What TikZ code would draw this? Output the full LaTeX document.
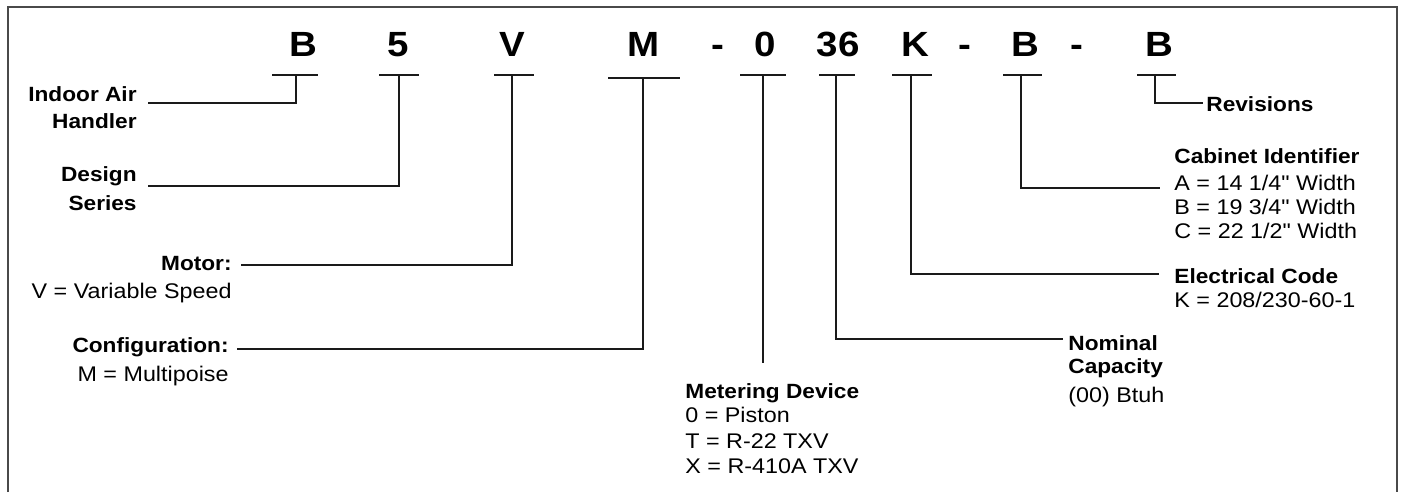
\documentclass[tikz,border=0pt]{standalone}
\usepackage{fontspec}
\setmainfont{Liberation Sans}[FakeStretch=1.1, Ligatures=TeXOff]
\usetikzlibrary{calc}
\definecolor{framecol}{HTML}{4A4A4A}
\definecolor{linecol}{HTML}{1A1A1A}
\begin{document}
\begin{tikzpicture}[x=0.5pt,y=-0.5pt,
  code/.style={font=\fontsize{17.5}{20}\selectfont\bfseries, anchor=base, inner sep=0pt},
  lb/.style={font=\fontsize{10.3}{12}\selectfont\bfseries, inner sep=0pt},
  lt/.style={font=\fontsize{10.6}{12}\selectfont, inner sep=0pt},
  conn/.style={line width=0.6pt, draw=linecol},
  tickline/.style={line width=0.75pt, draw=linecol}]
\useasboundingbox (0,0) rectangle (1401,492);
% frame (open at the bottom)
\draw[line width=1pt, draw=framecol] (8,492) -- (8,7.5) -- (1397,7.5) -- (1397,492);

% code letters
\node[code] (cB1) at (303,57) {B};
\node[code] (c5)  at (398,57) {5};
\node[code] (cV)  at (512,57) {V};
\node[code] (cM)  at (643.5,57) {M};
\node[code] (cd1) at (718,57) {-};
\node[code] (c0)  at (765,57) {0};
\node[code] (c36) at (838,57) {36};
\node[code] (cK)  at (915,57) {K};
\node[code] (cd2) at (965,57) {-};
\node[code] (cB2) at (1025,57) {B};
\node[code] (cd3) at (1077,57) {-};
\node[code] (cB3) at (1159,57) {B};

% tick points
\coordinate (tB1) at (296,75);
\coordinate (t5)  at (399,75);
\coordinate (tV)  at (512,75);
\coordinate (tM)  at (643,78);
\coordinate (t0)  at (763,75);
\coordinate (t36) at (836,75);
\coordinate (tK)  at (911,75);
\coordinate (tB2) at (1021,75);
\coordinate (tB3) at (1155,75);

% ticks
\draw[tickline] (272,75) -- (318,75);
\draw[tickline] (379,75) -- (419,75);
\draw[tickline] (494,75) -- (534,75);
\draw[tickline] (608,78) -- (680,78);
\draw[tickline] (740,75) -- (786,75);
\draw[tickline] (819,75) -- (855,75);
\draw[tickline] (892,75) -- (932,75);
\draw[tickline] (1003,75) -- (1042,75);
\draw[tickline] (1137,75) -- (1176,75);

% left labels
\node[lb, anchor=base east] (lIndoor) at (137,102) {Indoor Air};
\node[lb, anchor=base east] (lHandler) at (137,128) {Handler};
\node[lb, anchor=base east] (lDesign) at (137,181) {Design};
\node[lb, anchor=base east] (lSeries) at (137,210) {Series};
\node[lb, anchor=base east] (lMotor) at (232,270) {Motor:};
\node[lt, anchor=base east] (lMotorV) at (232,298) {V = Variable Speed};
\node[lb, anchor=base east] (lConf) at (229,352) {Configuration:};
\node[lt, anchor=base east] (lConfM) at (229,381) {M = Multipoise};

% bottom / right labels
\node[lb, anchor=base west] (lMeter) at (685,398) {Metering Device};
\node[lt, anchor=base west] (lMeter0) at (685,422) {0 = Piston};
\node[lt, anchor=base west] (lMeterT) at (685,448) {T = R-22 TXV};
\node[lt, anchor=base west] (lMeterX) at (685,473) {X = R-410A TXV};

\node[lb, anchor=base west] (lNom) at (1068,350) {Nominal};
\node[lb, anchor=base west] (lCap) at (1068,373) {Capacity};
\node[lt, anchor=base west] (lBtuh) at (1068,402) {(00) Btuh};

\node[lb, anchor=base west] (lElec) at (1174,283) {Electrical Code};
\node[lt, anchor=base west] (lElecK) at (1174,307) {K = 208/230-60-1};

\node[lb, anchor=base west] (lCab) at (1174,163) {Cabinet Identifier};
\node[lt, anchor=base west] (lCabA) at (1174,190) {A = 14 1/4" Width};
\node[lt, anchor=base west] (lCabB) at (1174,214) {B = 19 3/4" Width};
\node[lt, anchor=base west] (lCabC) at (1174,238) {C = 22 1/2" Width};

\node[lb, anchor=base west] (lRev) at (1206,112) {Revisions};

% connector ends
\coordinate (eIndoor) at (148,103);
\coordinate (eDesign) at (148,186);
\coordinate (eMotor)  at (241,265);
\coordinate (eConf)   at (237,349);
\coordinate (eMeter)  at (763,363);
\coordinate (eNom)    at (1063,339);
\coordinate (eElec)   at (1159,274);
\coordinate (eCab)    at (1160,188);
\coordinate (eRev)    at (1203,103);

% connectors
\draw[conn] (tB1) |- (eIndoor);
\draw[conn] (t5)  |- (eDesign);
\draw[conn] (tV)  |- (eMotor);
\draw[conn] (tM)  |- (eConf);
\draw[conn] (t0)  -- (eMeter);
\draw[conn] (t36) |- (eNom);
\draw[conn] (tK)  |- (eElec);
\draw[conn] (tB2) |- (eCab);
\draw[conn] (tB3) |- (eRev);
\end{tikzpicture}
\end{document}
